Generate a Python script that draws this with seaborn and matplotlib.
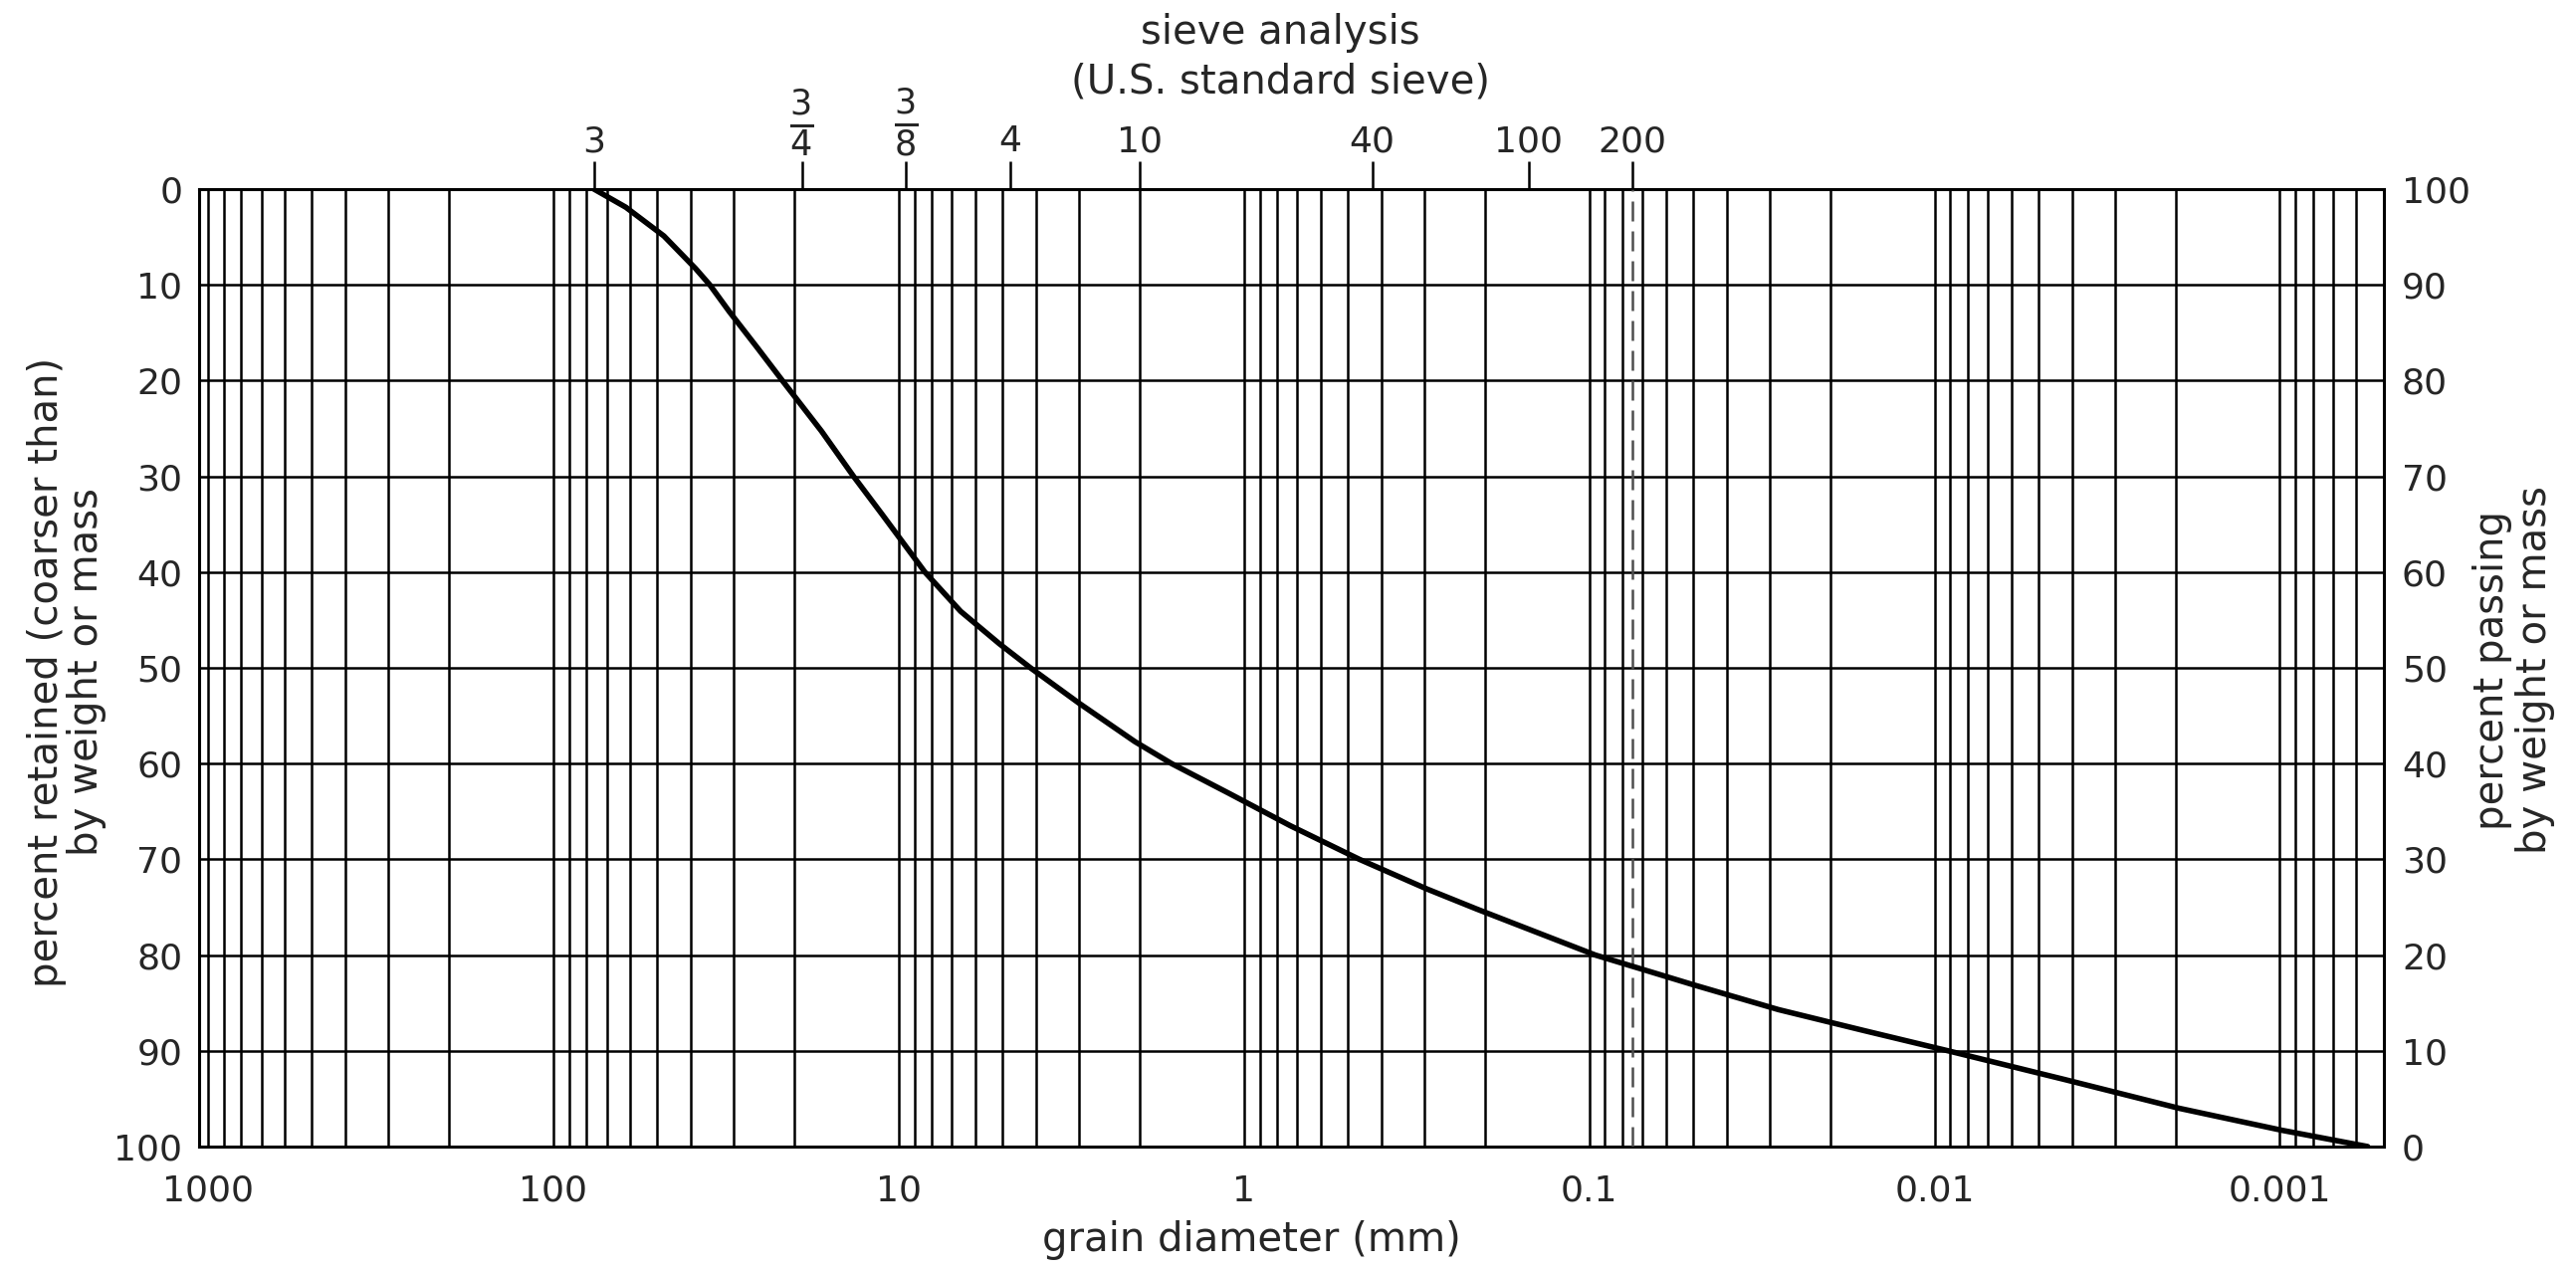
import numpy as np
import pandas as pd
import seaborn as sns
import matplotlib
matplotlib.use("Agg")
import matplotlib.pyplot as plt
from matplotlib.ticker import FixedLocator, NullLocator, LogLocator, FixedFormatter

# grain size distribution (diameter in mm, percent passing)
diameter_mm = [76.2, 61.6, 47.8, 38.7, 35.2, 30.9, 25.6, 21.7, 16.7, 13.5, 11.09,
               8.39, 6.61, 5.10, 4.15, 3.00, 2.07, 1.62, 1.106, 0.733, 0.463,
               0.295, 0.2115, 0.096, 0.050, 0.0283, 0.01596, 0.00914, 0.0042,
               0.00196, 0.000987, 0.000557]
percent_passing = [100, 98.1, 95.1, 91.7, 90.0, 87.2, 83.4, 80.0, 74.7, 70.0, 65.9,
                   60.0, 55.9, 52.5, 50.0, 46.3, 42.3, 40.0, 36.9, 33.5, 30.0,
                   26.9, 24.8, 20.0, 16.9, 14.3, 12.1, 10.0, 7.0,
                   4.0, 1.7, 0.0]

# bottom axis
x_ticks = [1000, 100, 10, 1, 0.1, 0.01, 0.001]
x_labels = ["1000", "100", "10", "1", "0.1", "0.01", "0.001"]

# top axis: U.S. standard sieve openings (mm)
sieve_mm = [76.2, 19.05, 9.525, 4.75, 2.0, 0.425, 0.15, 0.075]
sieve_labels = ["3", r"$\frac{3}{4}$", r"$\frac{3}{8}$", "4", "10", "40", "100", "200"]

pct_ticks = list(range(0, 101, 10))

df = pd.DataFrame({"d": diameter_mm, "passing": percent_passing})

sns.set_style("white")
plt.rcParams["font.family"] = ["DejaVu Sans"]
plt.rcParams["mathtext.fontset"] = "dejavusans"

fig = plt.figure(figsize=(25.88, 12.75), dpi=100)
fig.subplots_adjust(left=0.0773, right=0.9254, bottom=0.0965, top=0.851)
ax = fig.add_subplot(111)

ax.set_xscale("log")
ax.set_xlim(1060, 0.0005)
ax.set_ylim(100, 0)

# grid: every 1..9 x decade, every 10 %
ax.xaxis.set_major_locator(FixedLocator(x_ticks))
ax.xaxis.set_major_formatter(FixedFormatter(x_labels))
ax.xaxis.set_minor_locator(LogLocator(base=10, subs=np.arange(2, 10)))
ax.set_yticks(pct_ticks)
ax.grid(True, which="both", axis="x", color="black", lw=1.8)
ax.grid(True, which="major", axis="y", color="black", lw=1.8)
ax.tick_params(axis="x", which="both", length=0, pad=20, labelsize=26)
ax.tick_params(axis="y", length=0, pad=12, labelsize=26)
for s in ax.spines.values():
    s.set_color("black")
    s.set_linewidth(2.2)

# #200 sieve dashed line
ax.axvline(sieve_mm[-1], color="0.3", lw=1.8, ls=(0, (8, 4)), zorder=3)

# right axis: percent passing, curve drawn here
ax2 = ax.twinx()
ax2.set_ylim(0, 100)
ax2.set_yticks(pct_ticks)
ax2.tick_params(axis="y", length=0, pad=13, labelsize=26)
sns.lineplot(data=df, x="d", y="passing", ax=ax2, sort=False, estimator=None,
             color="black", lw=4)
ax2.set_xlabel("")
ax2.set_ylabel("")
for s in ax2.spines.values():
    s.set_visible(False)

# top axis: sieve numbers
ax3 = ax.twiny()
ax3.set_xscale("log")
ax3.set_xlim(ax.get_xlim())
ax3.xaxis.set_major_locator(FixedLocator(sieve_mm))
ax3.xaxis.set_major_formatter(FixedFormatter(sieve_labels))
ax3.xaxis.set_minor_locator(NullLocator())
ax3.tick_params(axis="x", direction="out", length=20, width=1.8, pad=2,
                labelsize=26, color="black")
for lab in ax3.get_xticklabels():
    if "frac" in lab.get_text():
        lab.set_fontsize(36)
for s in ax3.spines.values():
    s.set_visible(False)

ax.set_xlabel("grain diameter (mm)", fontsize=29)
ax.xaxis.set_label_coords(0.4815, -0.098)
ax.xaxis.label.set_va("center")

fig.text(0.497, 0.974, "sieve analysis", ha="center", va="center", fontsize=29)
fig.text(0.497, 0.935, "(U.S. standard sieve)", ha="center", va="center", fontsize=29)
fig.text(0.0259, 0.4706, "percent retained (coarser than)\nby weight or mass",
         rotation=90, ha="center", va="center", fontsize=29, linespacing=1.0)
fig.text(0.9757, 0.472, "percent passing\nby weight or mass",
         rotation=90, ha="center", va="center", fontsize=29, linespacing=1.1)

fig.savefig("out.png", dpi=100)
